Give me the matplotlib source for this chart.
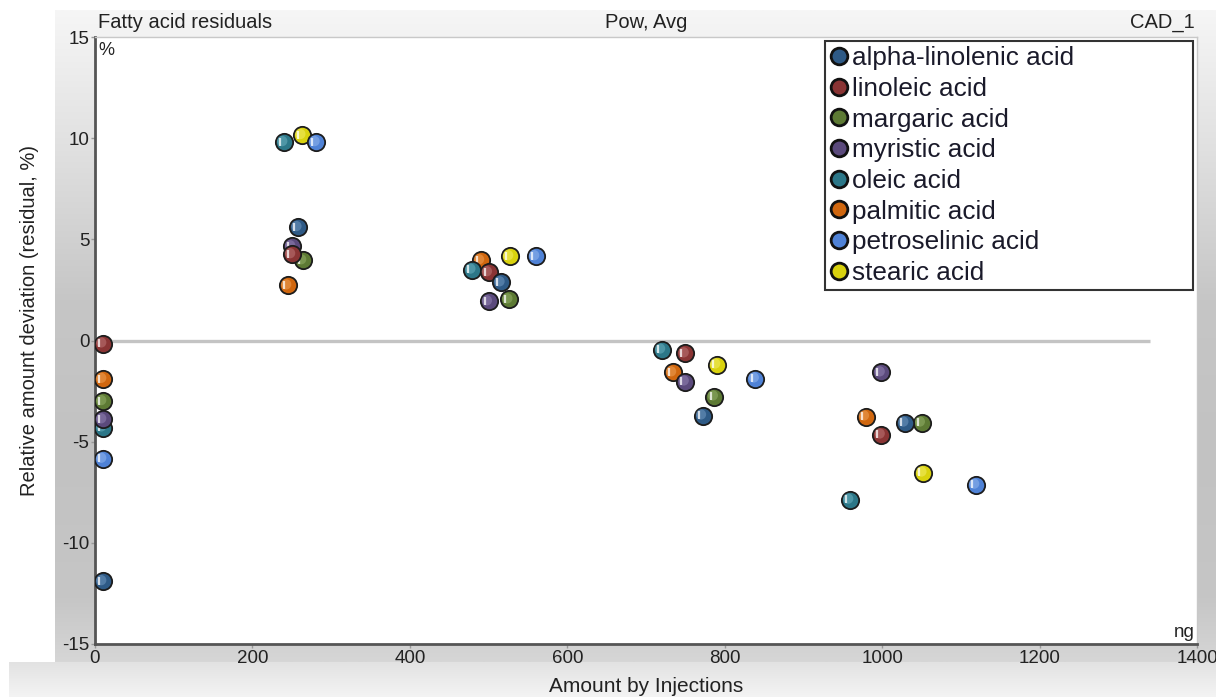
import numpy as np
import matplotlib
matplotlib.use("Agg")
import matplotlib.pyplot as plt
from matplotlib.lines import Line2D
from matplotlib.transforms import offset_copy

plt.rcParams['font.family'] = ['Liberation Sans', 'DejaVu Sans']
plt.rcParams['axes.unicode_minus'] = False

# ---------------- data ----------------
series = ["alpha-linolenic acid", "linoleic acid", "margaric acid", "myristic acid",
          "oleic acid", "palmitic acid", "petroselinic acid", "stearic acid"]
colors = ["#2e5a86", "#8a3434", "#5d7a34", "#5b4a7c", "#2c7788", "#d0670f", "#4f82d6", "#d9d20e"]
lights = ["#7fa6cf", "#c98484", "#9fbc73", "#9e8fc0", "#79bccb", "#f5ad66", "#a3c2f2", "#f7f27a"]

alpha_x = [10, 258, 516, 772, 1029]
alpha_y = [-11.9, 5.6, 2.87, -3.71, -4.06]
linoleic_x = [10, 250, 500, 750, 999]
linoleic_y = [-0.15, 4.26, 3.37, -0.64, -4.65]
margaric_x = [10, 264, 526, 787, 1050]
margaric_y = [-3.0, 3.96, 2.03, -2.77, -4.06]
myristic_x = [10, 250, 500, 750, 999]
myristic_y = [-3.9, 4.65, 1.93, -2.03, -1.58]
oleic_x = [10, 240, 479, 720, 959]
oleic_y = [-4.3, 9.8, 3.5, -0.45, -7.87]
palmitic_x = [10, 245, 490, 734, 979]
palmitic_y = [-1.9, 2.72, 3.96, -1.58, -3.76]
petro_x = [10, 281, 560, 839, 1119]
petro_y = [-5.85, 9.8, 4.16, -1.88, -7.13]
stearic_x = [263, 527, 790, 1052]
stearic_y = [10.15, 4.16, -1.19, -6.53]

xs = [alpha_x, linoleic_x, margaric_x, myristic_x, oleic_x, palmitic_x, petro_x, stearic_x]
ys = [alpha_y, linoleic_y, margaric_y, myristic_y, oleic_y, palmitic_y, petro_y, stearic_y]

x_ticks = [0, 200, 400, 600, 800, 1000, 1200, 1400]
y_ticks = [-15, -10, -5, 0, 5, 10, 15]

# ---------------- figure ----------------
W, H = 1216, 697
fig = plt.figure(figsize=(W / 100, H / 100), dpi=100)
fig.patch.set_facecolor("white")

# background gradient panels
bg = fig.add_axes([0, 0, 1, 1], zorder=-10)
bg.set_xlim(0, W)
bg.set_ylim(H, 0)
bg.axis("off")
yy = np.linspace(10, 662, 300)
prof = np.interp(yy, [10, 150, 300, 450, 600, 662], [246, 224, 198, 194, 198, 214]) / 255.0
img = np.repeat(prof[:, None], 2, axis=1)
bg.imshow(np.dstack([img, img, img]), extent=(55, W, 662, 10), aspect="auto", zorder=0)
yb = np.linspace(662, H, 50)
profb = np.interp(yb, [662, H], [226, 244]) / 255.0
imgb = np.repeat(profb[:, None], 2, axis=1)
bg.imshow(np.dstack([imgb, imgb, imgb]), extent=(9, W, H, 662), aspect="auto", zorder=0)

L, R, T, B = 95, 1197, 37, 644
ax = fig.add_axes([L / W, 1 - B / H, (R - L) / W, (B - T) / H])
ax.set_facecolor("white")
ax.set_xlim(0, 1400)
ax.set_ylim(-15, 15)

for side in ["top", "right"]:
    ax.spines[side].set_color("#c8c8c8")
    ax.spines[side].set_linewidth(1.0)
for side in ["left", "bottom"]:
    ax.spines[side].set_color("#555555")
    ax.spines[side].set_linewidth(2.0)

ax.set_xticks(x_ticks)
ax.set_yticks(y_ticks)
ax.tick_params(axis="both", length=3, width=1, color="#999999", labelsize=13.5,
               labelcolor="#222222", pad=1)

# zero line
ax.plot([0, 1340], [0, 0], color="#c4c4c4", lw=2.4, zorder=1, solid_capstyle="butt")

# spheres
hl1 = offset_copy(ax.transData, fig=fig, x=-1.2, y=0.8, units="points")
hl2 = offset_copy(ax.transData, fig=fig, x=-2.8, y=0.3, units="points")
n = len(series)
for i in range(n - 1, -1, -1):
    for j in range(len(xs[i])):
        z = 3 + (n - i) * 10 + j * 0.01
        ax.scatter([xs[i][j]], [ys[i][j]], s=155, c=colors[i], edgecolors="#1c1c1c",
                   linewidths=1.3, zorder=z)
        ax.scatter([xs[i][j]], [ys[i][j]], s=55, c=lights[i], edgecolors="none",
                   alpha=0.45, zorder=z + 0.1, transform=hl1)
        ax.scatter([xs[i][j]], [ys[i][j]], s=40, marker="|", c="white",
                   linewidths=1.6, alpha=0.75, zorder=z + 0.2, transform=hl2)

# legend
handles = [Line2D([0], [0], marker="o", linestyle="none", markersize=12,
                  markerfacecolor=colors[i], markeredgecolor="#111111",
                  markeredgewidth=2.0) for i in range(n)]
lx0 = (825 - L) / (R - L)
lx1 = (1193 - L) / (R - L)
ly1 = 1 - (41 - T) / (B - T)
leg = ax.legend(handles, series, loc="upper left", mode="expand",
                bbox_to_anchor=(lx0, 0, lx1 - lx0, ly1), borderaxespad=0,
                fontsize=18.8, frameon=True,
                fancybox=False, edgecolor="#333333", framealpha=1.0,
                handletextpad=0.15, handlelength=0.7,
                labelspacing=0.255, borderpad=0.2)
leg.get_frame().set_linewidth(1.5)
for t in leg.get_texts():
    t.set_color("#1a1a2a")
leg.set_zorder(200)

# unit labels inside axes
ax.text(3 / (R - L), 1 - 5 / (B - T), "%", transform=ax.transAxes, ha="left", va="top",
        fontsize=13, color="#222222")
ax.text(1 - 2 / (R - L), 3 / (B - T), "ng", transform=ax.transAxes, ha="right", va="bottom",
        fontsize=13.5, color="#222222")

# titles
fig.text(98 / W, 1 - 22 / H, "Fatty acid residuals", ha="left", va="center", fontsize=14.5,
         color="#222222")
fig.text(646 / W, 1 - 22 / H, "Pow, Avg", ha="center", va="center", fontsize=14.5,
         color="#222222")
fig.text(1195 / W, 1 - 22 / H, "CAD_1", ha="right", va="center", fontsize=14.5,
         color="#222222")

# axis labels
fig.text(646 / W, 1 - 686 / H, "Amount by Injections", ha="center", va="center",
         fontsize=15, color="#222222")
fig.text(30 / W, 1 - 321 / H, "Relative amount deviation (residual, %)", ha="center",
         va="center", rotation=90, fontsize=14.5, color="#222222")

fig.savefig("out.png", dpi=100)
